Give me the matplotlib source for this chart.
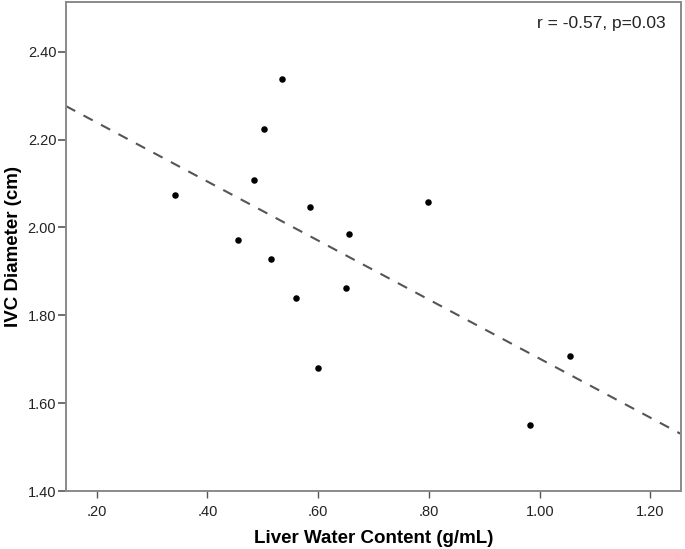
import numpy as np
import matplotlib
matplotlib.use('Agg')
import matplotlib.pyplot as plt

plt.rcParams['font.family'] = ['Liberation Sans', 'DejaVu Sans']

# liver water content (g/mL) vs IVC diameter (cm)
liver_water = [0.535, 0.502, 0.484, 0.341, 0.585, 0.455, 0.655, 0.515,
               0.650, 0.560, 0.599, 0.799, 1.054, 0.983]
ivc_diameter = [2.337, 2.225, 2.107, 2.074, 2.046, 1.971, 1.984, 1.927,
                1.861, 1.839, 1.680, 2.057, 1.708, 1.550]
x_ticks = [0.2, 0.4, 0.6, 0.8, 1.0, 1.2]
x_tick_labels = ['.20', '.40', '.60', '.80', '1.00', '1.20']
y_ticks = [1.4, 1.6, 1.8, 2.0, 2.2, 2.4]
y_tick_labels = ['1.40', '1.60', '1.80', '2.00', '2.20', '2.40']
stats_text = 'r = -0.57, p=0.03'

fig = plt.figure(figsize=(6.85, 5.49), dpi=100)
ax = fig.add_axes([0.0964, 0.1056, 0.8976, 0.8908])

x = np.array(liver_water)
y = np.array(ivc_diameter)
slope, intercept = np.polyfit(x, y, 1)

xlim = (0.1445, 1.255)
ylim = (1.40, 2.513)
xs = np.array(xlim)
ax.plot(xs, intercept + slope * xs, color='#555555', lw=1.5,
        dashes=(5, 4.5), zorder=2)
ax.scatter(x, y, s=22, color='black', zorder=3, linewidths=0)

ax.set_xlim(xlim)
ax.set_ylim(ylim)
ax.set_xticks(x_ticks)
ax.set_xticklabels(x_tick_labels)
ax.set_yticks(y_ticks)
ax.set_yticklabels(y_tick_labels)

for sp in ax.spines.values():
    sp.set_color('#8a8a8a')
    sp.set_linewidth(1.4)

ax.tick_params(axis='x', length=5, width=1.0, color='#555555',
               labelsize=10.5, labelcolor='#222222', pad=5)
ax.tick_params(axis='y', length=6, width=1.2, color='#555555',
               labelsize=10.5, labelcolor='#222222', pad=1)

ax.set_xlabel('Liver Water Content (g/mL)', fontsize=13.5, fontweight='bold',
              labelpad=8)
ax.set_ylabel('IVC Diameter (cm)', fontsize=13.5, fontweight='bold',
              labelpad=4)

ax.text(0.975, 0.955, stats_text, transform=ax.transAxes, ha='right',
        va='center', fontsize=12.5, color='#222222')

fig.savefig('out.png', dpi=100)
